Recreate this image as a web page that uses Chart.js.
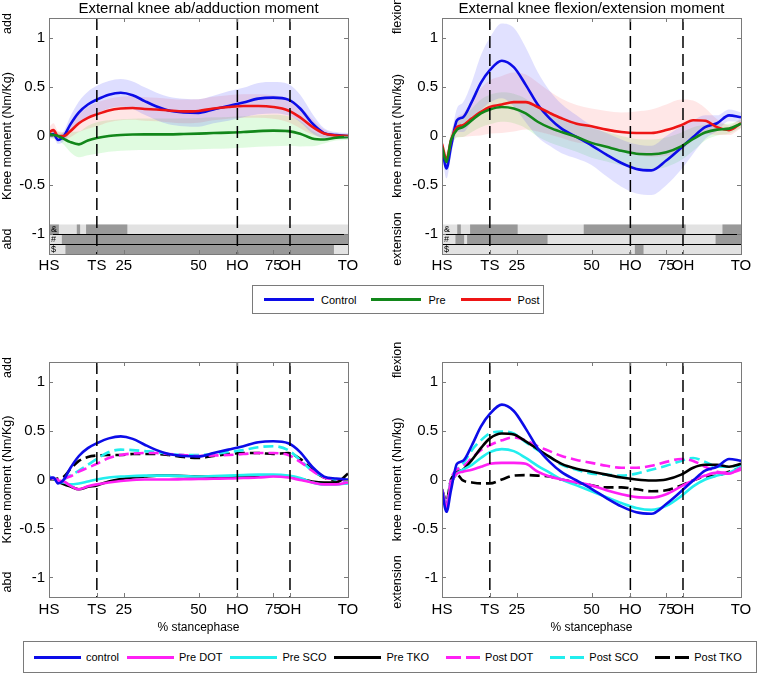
<!DOCTYPE html>
<html>
<head>
<meta charset="utf-8">
<script src="https://cdn.jsdelivr.net/npm/chart.js@4.4.0/dist/chart.umd.min.js"></script>
<style>
    body { margin: 0; background: #fff; width: 761px; height: 674px; position: relative; overflow: hidden;
           font-family: "Liberation Sans", Arial, sans-serif; }
    canvas { position: absolute; }
    .legend { position: absolute; box-sizing: border-box; border: 1px solid #7a7a7a; background: #fff;
              display: flex; align-items: center; font-size: 11px; color: #000; white-space: nowrap; }
    .item { display: flex; align-items: center; flex-shrink: 0; }
    .swatch { height: 3px; flex-shrink: 0; }
</style>
</head>
<body>
<canvas id="tl" width="370" height="280" style="left:0;top:0"></canvas>
<canvas id="tr" width="371" height="280" style="left:390px;top:0"></canvas>
<canvas id="bl" width="370" height="300" style="left:0;top:340px"></canvas>
<canvas id="br" width="371" height="300" style="left:390px;top:340px"></canvas>
<div class="legend" id="legend1" style="left:252px;top:285px;width:292px;height:29px;padding-left:11px"></div>
<div class="legend" id="legend2" style="left:23px;top:641px;width:734px;height:32px;padding-left:10px"></div>
<script>
// % of stance phase where the curves were read
const stance = [0, 1.5, 3, 5, 7, 10, 13, 16, 20, 24, 28, 32, 36, 40, 45, 50, 55, 60, 65, 70, 75, 80, 84, 88, 92, 96, 100];

const xTickValues = [0, 16, 25, 50, 63, 75, 80.6, 100];
const xTickLabels = ['HS', 'TS', '25', '50', 'HO', '75', 'OH', 'TO'];
const yTickValues = [-1, -0.5, 0, 0.5, 1];
const yTickLabels = ['-1', '-0.5', '0', '0.5', '1'];
const gaitEvents = [16, 63, 80.6];

// ab/adduction moment, groups
const abControl = [0.01, 0.02, -0.04, 0.0, 0.11, 0.24, 0.32, 0.37, 0.42, 0.44, 0.415, 0.355, 0.30, 0.26, 0.24, 0.235, 0.27, 0.305, 0.34, 0.38, 0.39, 0.37, 0.28, 0.13, 0.03, 0.01, 0.0];
const abPre = [0.02, 0.01, 0.0, -0.03, -0.06, -0.085, -0.045, -0.02, 0.0, 0.01, 0.015, 0.017, 0.017, 0.017, 0.02, 0.024, 0.03, 0.034, 0.04, 0.05, 0.055, 0.05, 0.024, -0.025, -0.035, -0.017, -0.01];
const abPost = [0.04, 0.06, 0.0, 0.0, 0.045, 0.13, 0.185, 0.22, 0.26, 0.28, 0.285, 0.275, 0.27, 0.26, 0.25, 0.255, 0.28, 0.295, 0.305, 0.305, 0.295, 0.26, 0.19, 0.095, 0.025, 0.005, 0.0];
const abControlSd = [0.04, 0.04, 0.04, 0.05, 0.08, 0.11, 0.13, 0.14, 0.14, 0.14, 0.14, 0.14, 0.14, 0.14, 0.14, 0.14, 0.14, 0.15, 0.15, 0.16, 0.16, 0.16, 0.14, 0.1, 0.05, 0.03, 0.03];
const abPreSd = [0.03, 0.04, 0.04, 0.06, 0.1, 0.13, 0.15, 0.16, 0.16, 0.16, 0.16, 0.16, 0.16, 0.16, 0.16, 0.16, 0.16, 0.16, 0.16, 0.16, 0.16, 0.15, 0.13, 0.08, 0.04, 0.03, 0.03];
const abPostSd = [0.05, 0.07, 0.05, 0.04, 0.06, 0.09, 0.11, 0.12, 0.12, 0.12, 0.12, 0.12, 0.12, 0.12, 0.12, 0.12, 0.12, 0.12, 0.12, 0.12, 0.12, 0.12, 0.11, 0.08, 0.04, 0.02, 0.02];

// flexion/extension moment, groups
const flControl = [-0.11, -0.33, -0.11, 0.16, 0.19, 0.35, 0.54, 0.67, 0.765, 0.70, 0.52, 0.32, 0.18, 0.075, -0.01, -0.095, -0.19, -0.275, -0.335, -0.35, -0.25, -0.12, -0.01, 0.09, 0.13, 0.21, 0.19];
const flPre = [-0.11, -0.265, -0.045, 0.065, 0.09, 0.16, 0.23, 0.27, 0.295, 0.28, 0.23, 0.145, 0.085, 0.04, -0.01, -0.07, -0.11, -0.15, -0.18, -0.185, -0.165, -0.105, -0.03, 0.035, 0.065, 0.075, 0.125];
const flPost = [-0.08, -0.24, -0.045, 0.09, 0.11, 0.18, 0.245, 0.295, 0.32, 0.345, 0.345, 0.295, 0.235, 0.18, 0.125, 0.10, 0.065, 0.04, 0.03, 0.03, 0.06, 0.11, 0.16, 0.155, 0.09, 0.06, 0.13];
const flControlSd = [0.05, 0.1, 0.1, 0.12, 0.15, 0.2, 0.28, 0.33, 0.38, 0.4, 0.38, 0.33, 0.28, 0.25, 0.22, 0.2, 0.22, 0.24, 0.25, 0.25, 0.25, 0.22, 0.17, 0.12, 0.08, 0.06, 0.05];
const flPreSd = [0.05, 0.08, 0.08, 0.08, 0.1, 0.12, 0.14, 0.15, 0.15, 0.15, 0.15, 0.15, 0.15, 0.15, 0.15, 0.15, 0.15, 0.15, 0.15, 0.15, 0.15, 0.14, 0.12, 0.08, 0.06, 0.05, 0.04];
const flPostSd = [0.05, 0.08, 0.08, 0.1, 0.12, 0.18, 0.24, 0.27, 0.29, 0.3, 0.28, 0.25, 0.22, 0.2, 0.19, 0.18, 0.19, 0.2, 0.22, 0.24, 0.26, 0.26, 0.2, 0.13, 0.08, 0.05, 0.05];

// ab/adduction moment, subgroups
const abPreDot = [0.02, 0.01, -0.01, -0.02, -0.06, -0.1, -0.07, -0.05, -0.03, -0.015, -0.005, 0.0, 0.0, 0.0, 0.003, 0.005, 0.008, 0.01, 0.015, 0.02, 0.03, 0.02, -0.005, -0.03, -0.05, -0.05, -0.03];
const abPreSco = [0.03, 0.01, -0.02, -0.03, -0.05, -0.04, -0.02, 0.0, 0.02, 0.03, 0.035, 0.04, 0.04, 0.04, 0.035, 0.03, 0.035, 0.04, 0.045, 0.05, 0.05, 0.04, 0.015, -0.03, -0.05, -0.05, -0.04];
const abPreTko = [0.02, 0.01, -0.02, -0.05, -0.07, -0.1, -0.075, -0.06, -0.02, 0.005, 0.02, 0.03, 0.04, 0.04, 0.035, 0.03, 0.025, 0.02, 0.03, 0.04, 0.04, 0.03, 0.005, -0.02, -0.03, -0.03, 0.06];
const abPostDot = [0.02, 0.01, 0.0, 0.01, 0.03, 0.08, 0.12, 0.16, 0.22, 0.25, 0.265, 0.27, 0.27, 0.26, 0.25, 0.24, 0.245, 0.25, 0.26, 0.27, 0.27, 0.25, 0.18, 0.09, 0.02, 0.0, -0.01];
const abPostSco = [0.03, 0.01, -0.02, 0.0, 0.04, 0.09, 0.15, 0.21, 0.28, 0.305, 0.30, 0.29, 0.28, 0.26, 0.25, 0.25, 0.26, 0.28, 0.30, 0.33, 0.34, 0.3, 0.2, 0.09, 0.03, 0.0, -0.02];
const abPostTko = [0.02, 0.0, 0.01, 0.03, 0.1, 0.19, 0.23, 0.245, 0.25, 0.25, 0.26, 0.26, 0.26, 0.25, 0.23, 0.22, 0.24, 0.26, 0.27, 0.27, 0.26, 0.27, 0.21, 0.1, 0.02, -0.01, -0.01];

// flexion/extension moment, subgroups
const flPreDot = [-0.1, -0.28, -0.05, 0.06, 0.08, 0.1, 0.13, 0.16, 0.17, 0.17, 0.16, 0.08, 0.03, 0.0, -0.03, -0.06, -0.11, -0.15, -0.18, -0.185, -0.15, -0.07, -0.01, 0.04, 0.07, 0.06, 0.12];
const flPreSco = [-0.1, -0.28, -0.05, 0.06, 0.1, 0.15, 0.22, 0.28, 0.31, 0.29, 0.22, 0.14, 0.07, 0.0, -0.06, -0.12, -0.18, -0.24, -0.29, -0.31, -0.27, -0.17, -0.07, 0.0, 0.04, 0.07, 0.13];
const flPreTko = [-0.1, -0.28, -0.05, 0.07, 0.1, 0.2, 0.32, 0.42, 0.47, 0.46, 0.39, 0.31, 0.23, 0.16, 0.11, 0.08, 0.05, 0.02, 0.0, -0.01, 0.0, 0.05, 0.12, 0.15, 0.15, 0.13, 0.16];
const flPostDot = [-0.1, -0.25, 0.0, 0.1, 0.13, 0.22, 0.3, 0.35, 0.4, 0.43, 0.4, 0.34, 0.29, 0.24, 0.2, 0.17, 0.14, 0.12, 0.12, 0.14, 0.18, 0.21, 0.19, 0.13, 0.08, 0.07, 0.1];
const flPostSco = [-0.1, -0.25, 0.0, 0.1, 0.16, 0.3, 0.4, 0.47, 0.49, 0.47, 0.38, 0.3, 0.23, 0.15, 0.1, 0.06, 0.05, 0.04, 0.06, 0.1, 0.14, 0.19, 0.22, 0.18, 0.13, 0.13, 0.15];
const flPostTko = [-0.1, -0.22, 0.0, 0.05, -0.01, -0.03, -0.04, -0.04, 0.0, 0.04, 0.045, 0.04, 0.03, 0.0, -0.03, -0.06, -0.08, -0.08, -0.1, -0.12, -0.11, -0.06, -0.01, 0.03, 0.04, 0.08, 0.12];

// significance rows (&, #, $): dark segments in % stance
const sigSymbols = ['&', '#', '$'];
const abSigRows = [[[0, 3.3], [9.3, 10.4], [12.4, 26.2]], [[4.3, 100]], [[5.5, 95.3]]];
const flSigRows = [[[5.1, 6.3], [9.4, 25.3], [47.4, 81.5], [93.8, 100]], [[4.5, 7.4], [8.4, 35.3], [91.5, 100]], [[64.5, 67.4]]];

const groupNames = ['Control', 'Pre', 'Post'];
const subNames = ['control', 'Pre DOT', 'Pre SCO', 'Pre TKO', 'Post DOT', 'Post SCO', 'Post TKO'];

const BLUE = '#0c0ce8', GREEN = '#12871a', RED = '#ee1515', MAGENTA = '#ff20f4', CYAN = '#22eeee', BLACK = '#000000';
const FONT = '"Liberation Sans", Arial, sans-serif';

function pts(ys) {
    return stance.map((x, i) => ({ x: x, y: ys[i] }));
}

function lineSet(label, ys, color, dashed) {
    return {
        label: label, data: pts(ys), borderColor: color, borderWidth: 2.6,
        borderDash: dashed ? [10, 5] : [], pointRadius: 0, fill: false,
        cubicInterpolationMode: 'monotone', order: 2
    };
}

function bandSets(ys, sd, color) {
    return [
        { data: stance.map((x, i) => ({ x: x, y: ys[i] + sd[i] })), borderWidth: 0, pointRadius: 0,
          backgroundColor: color, fill: '+1', cubicInterpolationMode: 'monotone', order: 5 },
        { data: stance.map((x, i) => ({ x: x, y: ys[i] - sd[i] })), borderWidth: 0, pointRadius: 0,
          fill: false, cubicInterpolationMode: 'monotone', order: 5 }
    ];
}

function eventSets() {
    return gaitEvents.map(x => ({
        data: [{ x: x, y: 1.2 }, { x: x, y: -1.2 }], borderColor: '#000', borderWidth: 1.5,
        borderDash: [12, 6], pointRadius: 0, fill: false, order: 1
    }));
}

function panelPlugin(sigRows, topWord, bottomWord) {
    return {
        id: 'panel',
        beforeDatasetsDraw(chart) {
            if (!sigRows) return;
            const ctx = chart.ctx, x = chart.scales.x, y = chart.scales.y;
            ctx.save();
            sigRows.forEach((segs, r) => {
                const y0 = y.getPixelForValue(-0.9 - r * 0.1), y1 = y.getPixelForValue(-1.0 - r * 0.1);
                ctx.fillStyle = '#e2e2e2';
                ctx.fillRect(x.left, y0, x.right - x.left, y1 - y0);
                ctx.fillStyle = '#999999';
                segs.forEach(s => {
                    const a = x.getPixelForValue(s[0]), b = x.getPixelForValue(s[1]);
                    ctx.fillRect(a, y0, b - a, y1 - y0);
                });
                ctx.fillStyle = '#000';
                ctx.font = '9px ' + FONT;
                ctx.textBaseline = 'middle';
                ctx.textAlign = 'left';
                ctx.fillText(sigSymbols[r], x.left + 2, (y0 + y1) / 2);
            });
            ctx.strokeStyle = '#000';
            ctx.lineWidth = 1;
            [-1.0, -1.1].forEach(v => {
                const py = Math.round(y.getPixelForValue(v)) + 0.5;
                ctx.beginPath();
                ctx.moveTo(x.left, py);
                ctx.lineTo(x.right, py);
                ctx.stroke();
            });
            ctx.restore();
        },
        afterDraw(chart) {
            const ctx = chart.ctx, x = chart.scales.x, y = chart.scales.y, a = chart.chartArea;
            ctx.save();
            ctx.strokeStyle = '#7a7a7a';
            ctx.lineWidth = 1;
            ctx.strokeRect(Math.round(a.left) + 0.5, Math.round(a.top) + 0.5, Math.round(a.right - a.left), Math.round(a.bottom - a.top));
            ctx.beginPath();
            yTickValues.forEach(v => {
                const py = Math.round(y.getPixelForValue(v)) + 0.5;
                ctx.moveTo(a.left, py); ctx.lineTo(a.left + 4, py);
                ctx.moveTo(a.right, py); ctx.lineTo(a.right - 4, py);
            });
            xTickValues.forEach(v => {
                if (v <= 0 || v >= 100) return;
                const px = Math.round(x.getPixelForValue(v)) + 0.5;
                ctx.moveTo(px, a.top); ctx.lineTo(px, a.top + 4);
                ctx.moveTo(px, a.bottom); ctx.lineTo(px, a.bottom - 4);
            });
            ctx.stroke();
            ctx.fillStyle = '#000';
            ctx.font = '12.5px ' + FONT;
            ctx.textBaseline = 'middle';
            ctx.translate(y.left + 8, 0);
            ctx.rotate(-Math.PI / 2);
            ctx.textAlign = 'left';
            ctx.fillText(topWord, -(a.top + 16), 0);
            ctx.textAlign = 'center';
            ctx.fillText(bottomWord, -(a.bottom - 15), 0);
            ctx.restore();
        }
    };
}

function makePanel(id, opts) {
    new Chart(document.getElementById(id), {
        type: 'line',
        data: { datasets: opts.datasets },
        plugins: [panelPlugin(opts.sig, opts.topWord, opts.bottomWord)],
        options: {
            responsive: false,
            animation: false,
            layout: { padding: { top: opts.padTop, right: opts.padRight, left: 0, bottom: 0 } },
            plugins: {
                legend: { display: false },
                tooltip: { enabled: false },
                title: {
                    display: !!opts.title, text: opts.title, fullSize: false, color: '#000',
                    font: { size: 15, family: FONT, weight: 'normal' }, padding: 0
                }
            },
            scales: {
                x: {
                    type: 'linear', min: 0, max: 100,
                    afterBuildTicks: s => { s.ticks = xTickValues.map(v => ({ value: v })); },
                    afterFit: s => { s.height = opts.xHeight; s.paddingLeft = 0; s.paddingRight = 0; },
                    grid: { display: false, drawTicks: false },
                    border: { display: false },
                    ticks: {
                        autoSkip: false, maxRotation: 0, padding: opts.xPad, color: '#000',
                        font: { size: 15, family: FONT },
                        callback: (v, i) => xTickLabels[i]
                    },
                    title: {
                        display: !!opts.xTitle, text: opts.xTitle, color: '#000',
                        font: { size: 12, family: FONT }, padding: { top: 0, bottom: 5 }
                    }
                },
                y: {
                    min: -1.2, max: 1.2,
                    afterBuildTicks: s => { s.ticks = yTickValues.map(v => ({ value: v })); },
                    afterFit: s => { s.width = opts.yWidth; s.paddingTop = 0; s.paddingBottom = 0; },
                    grid: { display: false, drawTicks: false },
                    border: { display: false },
                    ticks: {
                        padding: 4, color: '#000', font: { size: 15, family: FONT },
                        callback: (v, i) => yTickLabels[i]
                    },
                    title: {
                        display: true, text: opts.yTitle, color: '#000',
                        font: { size: 12.5, family: FONT }, padding: { top: 0.5, bottom: 0 }
                    }
                }
            }
        }
    });
}

makePanel('tl', {
    title: 'External knee ab/adduction moment', yTitle: 'Knee moment (Nm/Kg)',
    topWord: 'add', bottomWord: 'abd', sig: abSigRows,
    padTop: 0, padRight: 22, xHeight: 26, yWidth: 49, xPad: 3,
    datasets: [].concat(
        [lineSet(groupNames[1], abPre, GREEN), lineSet(groupNames[2], abPost, RED), lineSet(groupNames[0], abControl, BLUE)],
        eventSets(),
        bandSets(abControl, abControlSd, 'rgba(70,70,255,0.18)'),
        bandSets(abPost, abPostSd, 'rgba(255,70,70,0.14)'),
        bandSets(abPre, abPreSd, 'rgba(60,230,60,0.16)')
    )
});

makePanel('tr', {
    title: 'External knee flexion/extension moment', yTitle: 'knee moment (Nm/kg)',
    topWord: 'flexion', bottomWord: 'extension', sig: flSigRows,
    padTop: 0, padRight: 20, xHeight: 26, yWidth: 52, xPad: 3,
    datasets: [].concat(
        [lineSet(groupNames[1], flPre, GREEN), lineSet(groupNames[2], flPost, RED), lineSet(groupNames[0], flControl, BLUE)],
        eventSets(),
        bandSets(flControl, flControlSd, 'rgba(70,70,255,0.16)'),
        bandSets(flPost, flPostSd, 'rgba(255,70,70,0.13)'),
        bandSets(flPre, flPreSd, 'rgba(60,230,60,0.15)')
    )
});

makePanel('bl', {
    title: '', yTitle: 'Knee moment (Nm/Kg)', xTitle: '% stancephase',
    topWord: 'add', bottomWord: 'abd', sig: null,
    padTop: 22, padRight: 22, xHeight: 43, yWidth: 49, xPad: 4,
    datasets: [].concat(
        [lineSet(subNames[0], abControl, BLUE),
         lineSet(subNames[1], abPreDot, MAGENTA), lineSet(subNames[2], abPreSco, CYAN), lineSet(subNames[3], abPreTko, BLACK),
         lineSet(subNames[4], abPostDot, MAGENTA, true), lineSet(subNames[5], abPostSco, CYAN, true), lineSet(subNames[6], abPostTko, BLACK, true)],
        eventSets()
    )
});

makePanel('br', {
    title: '', yTitle: 'knee moment (Nm/kg)', xTitle: '% stancephase',
    topWord: 'flexion', bottomWord: 'extension', sig: null,
    padTop: 22, padRight: 20, xHeight: 43, yWidth: 52, xPad: 4,
    datasets: [].concat(
        [lineSet(subNames[0], flControl, BLUE),
         lineSet(subNames[1], flPreDot, MAGENTA), lineSet(subNames[2], flPreSco, CYAN), lineSet(subNames[3], flPreTko, BLACK),
         lineSet(subNames[4], flPostDot, MAGENTA, true), lineSet(subNames[5], flPostSco, CYAN, true), lineSet(subNames[6], flPostTko, BLACK, true)],
        eventSets()
    )
});

// legends
function buildLegend(id, names, colors, dashes, lineW, gapText, gapItem, dashLead) {
    const box = document.getElementById(id);
    names.forEach((name, i) => {
        const item = document.createElement('div');
        item.className = 'item';
        item.style.marginRight = gapItem + 'px';
        const sw = document.createElement('div');
        sw.className = 'swatch';
        if (dashes[i]) {
            sw.style.width = '34px';
            sw.style.marginLeft = dashLead + 'px';
            sw.style.background = 'repeating-linear-gradient(to right, ' + colors[i] + ' 0 15px, transparent 15px 20px)';
        } else {
            sw.style.width = lineW + 'px';
            sw.style.background = colors[i];
        }
        const txt = document.createElement('span');
        txt.textContent = name;
        txt.style.marginLeft = gapText + 'px';
        item.appendChild(sw);
        item.appendChild(txt);
        box.appendChild(item);
    });
}

buildLegend('legend1', groupNames, [BLUE, GREEN, RED], [false, false, false], 50, 7, 15, 0);
buildLegend('legend2', subNames, [BLUE, MAGENTA, CYAN, BLACK, MAGENTA, CYAN, BLACK],
    [false, false, false, false, true, true, true], 47, 5, 8, 9);
</script>
</body>
</html>
